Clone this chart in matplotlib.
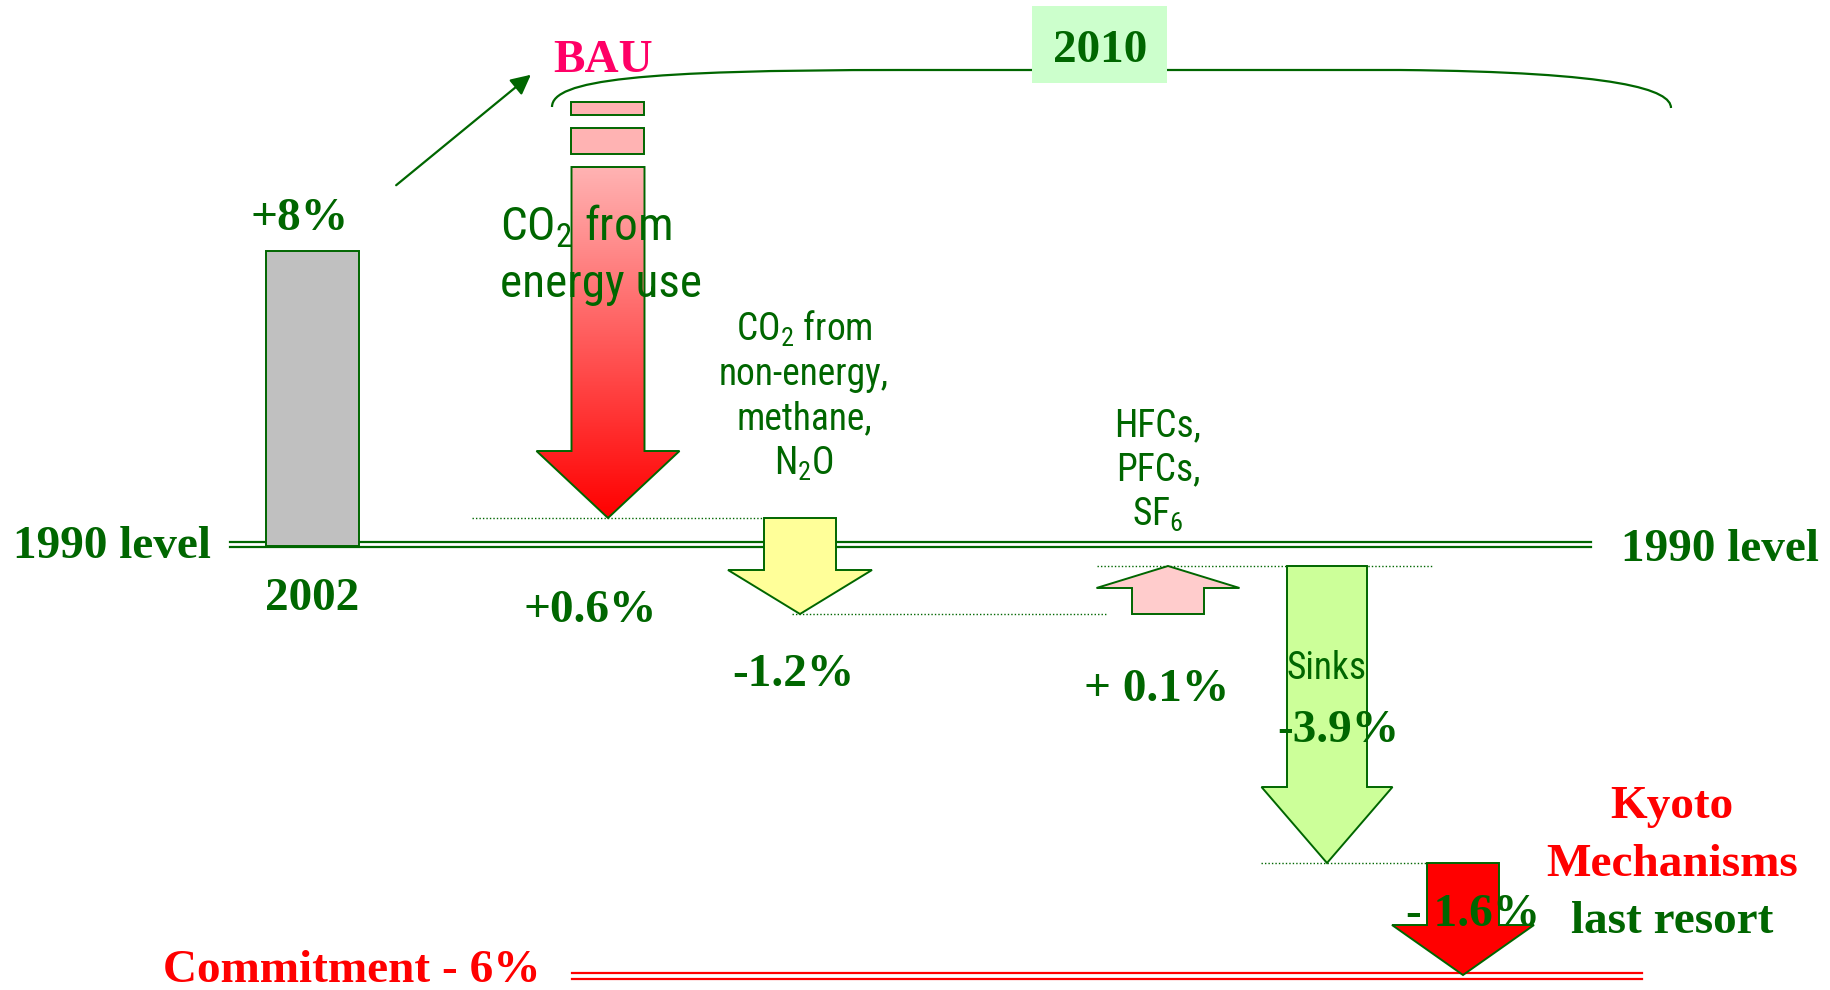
import numpy as np
import matplotlib.pyplot as plt
from matplotlib.patches import Polygon, Rectangle, PathPatch
from matplotlib.path import Path
from matplotlib.colors import LinearSegmentedColormap

plt.rcParams['mathtext.default'] = 'regular'

GREEN = '#006600'
RED = '#FF0000'
SERIF = dict(family='Liberation Serif', weight='bold', fontsize=34)
NARROW = ['Liberation Sans Narrow', 'Arial Narrow', 'Roboto Condensed', 'PT Sans Narrow',
          'Archivo Narrow', 'Sofia Sans Condensed', 'DejaVu Sans']

# values shown on the slide
base_label = '2002'
target_label = '2010'
base_growth = '+8%'
bau_label = 'BAU'
step_labels = ['+0.6%', '-1.2%', '+ 0.1%', '-3.9%', '- 1.6%']
step_names = [['CO$_2$ from', 'energy use'],
              ['CO$_2$ from', 'non-energy,', 'methane,', 'N$_2$O'],
              ['HFCs,', 'PFCs,', 'SF$_6$'],
              ['Sinks'],
              []]
kyoto_lines = ['Kyoto', 'Mechanisms', 'last resort']
commitment = 'Commitment - 6%'
level_label = '1990 level'

# layout of the schematic, in slide pixels (y grows downward)
level_1990 = 544
bar_x = (266, 359)
bar_top = 251
step_x = [608, 800, 1168, 1327, 1463]
step_from = [167, 518, 614, 566, 863]
step_to = [518, 614, 566, 863, 975]
shaft_w = [73, 72, 72, 80, 72]
head_w = [143, 144, 143, 131, 142]
head_len = [67, 44, 22, 76, 50]
step_fill = [None, '#FFFF99', '#FFCCCC', '#CCFF99', RED]
guide_spans = [(472, 765), (792, 1106), (1097, 1433), (1261, 1446)]
label_pos = [(590, 622), (793, 686), (1157, 701), (1338, 742), (1473, 926)]
name_pos = [(500, [241, 297], 'left', 34),
            (804, [341, 385, 429, 475], 'center', 27),
            (1158, [436, 480, 526], 'center', 27),
            (1327, [679], 'center', 27),
            (0, [], 'center', 27)]


def arrow_verts(xc, start, end, sw, hw, hl):
    d = 1 if end > start else -1
    neck = end - d * hl
    return [(xc - sw / 2, start), (xc + sw / 2, start), (xc + sw / 2, neck),
            (xc + hw / 2, neck), (xc, end), (xc - hw / 2, neck), (xc - sw / 2, neck)]


fig = plt.figure(figsize=(18.31, 9.90), dpi=100)
ax = fig.add_axes([0, 0, 1, 1])

# 1990 level double line and commitment double line
for dy in (-2.5, 2.5):
    ax.plot([230, 1591], [level_1990 + dy, level_1990 + dy], color=GREEN, lw=1.6, zorder=2)
    ax.plot([572, 1642], [976 + dy * 1.2, 976 + dy * 1.2], color=RED, lw=1.6, zorder=2)

# 2002 bar
ax.add_patch(Rectangle((bar_x[0], bar_top), bar_x[1] - bar_x[0], level_1990 + 2 - bar_top,
                       facecolor='#C0C0C0', edgecolor=GREEN, lw=1.4, zorder=3))

# BAU stack on top of the energy arrow
for y0, y1 in [(102, 115), (128, 154)]:
    ax.add_patch(Rectangle((step_x[0] - shaft_w[0] / 2, y0), shaft_w[0], y1 - y0,
                           facecolor='#FFB3B3', edgecolor=GREEN, lw=1.4, zorder=3))

# step arrows
for i in range(len(step_x)):
    verts = arrow_verts(step_x[i], step_from[i], step_to[i], shaft_w[i], head_w[i], head_len[i])
    if step_fill[i] is None:
        poly = Polygon(verts, closed=True, facecolor='none', edgecolor=GREEN, lw=1.4, zorder=4)
        ax.add_patch(poly)
        cmap = LinearSegmentedColormap.from_list('bau', ['#FFB3B3', '#FF0000'])
        grad = np.linspace(0, 1, 256).reshape(-1, 1)
        x0 = step_x[i] - head_w[i] / 2
        x1 = step_x[i] + head_w[i] / 2
        im = ax.imshow(grad, cmap=cmap, aspect='auto', origin='upper',
                       extent=(x0, x1, step_to[i], step_from[i]), zorder=3)
        im.set_clip_path(poly)
    else:
        ax.add_patch(Polygon(verts, closed=True, facecolor=step_fill[i],
                             edgecolor=GREEN, lw=1.4, zorder=4))

# dotted guides at each intermediate level
for (xa, xb), y in zip(guide_spans, step_to):
    ax.plot([xa, xb], [y, y], color=GREEN, lw=1.0, ls=(0, (1, 1.5)), zorder=2)

# 2010 bracket
brace = Path([(552, 107), (552, 80), (640, 70), (900, 70),
              (1400, 70), (1620, 72), (1671, 90), (1671, 108)],
             [Path.MOVETO, Path.CURVE4, Path.CURVE4, Path.CURVE4,
              Path.LINETO, Path.CURVE4, Path.CURVE4, Path.CURVE4])
ax.add_patch(PathPatch(brace, facecolor='none', edgecolor=GREEN, lw=1.6, zorder=2))
ax.add_patch(Rectangle((1032, 6), 135, 77, facecolor='#CCFFCC', edgecolor='none', zorder=3))
ax.text(1100, 62, target_label, ha='center', va='baseline', color=GREEN, zorder=6, **SERIF)

# growth arrow 2002 -> BAU
ax.annotate('', xy=(533, 73), xytext=(394, 187),
            arrowprops=dict(arrowstyle='-|>', color=GREEN, lw=1.6, mutation_scale=30))

# texts
ax.text(603, 72, bau_label, ha='center', va='baseline', color='#FF0066', **SERIF)
ax.text(300, 230, base_growth, ha='center', va='baseline', color=GREEN, **SERIF)
ax.text(312, 610, base_label, ha='center', va='baseline', color=GREEN, **SERIF)
ax.text(112, 558, level_label, ha='center', va='baseline', color=GREEN, **SERIF)
ax.text(1720, 561, level_label, ha='center', va='baseline', color=GREEN, **SERIF)
ax.text(352, 982, commitment, ha='center', va='baseline', color=RED, **SERIF)

for lab, (x, y) in zip(step_labels, label_pos):
    ax.text(x, y, lab, ha='center', va='baseline', color=GREEN, zorder=6, **SERIF)

for lines, (x, ys, ha, fs) in zip(step_names, name_pos):
    for s, y in zip(lines, ys):
        ax.text(x, y, s, ha=ha, va='baseline', color=GREEN, family=NARROW,
                fontsize=fs, zorder=6)

for s, y, c in zip(kyoto_lines, [818, 876, 933], [RED, RED, GREEN]):
    ax.text(1672, y, s, ha='center', va='baseline', color=c, zorder=6, **SERIF)

ax.set_xlim(0, 1831)
ax.set_ylim(990, 0)
ax.axis('off')
fig.savefig('out.png', dpi=100, facecolor='white')
